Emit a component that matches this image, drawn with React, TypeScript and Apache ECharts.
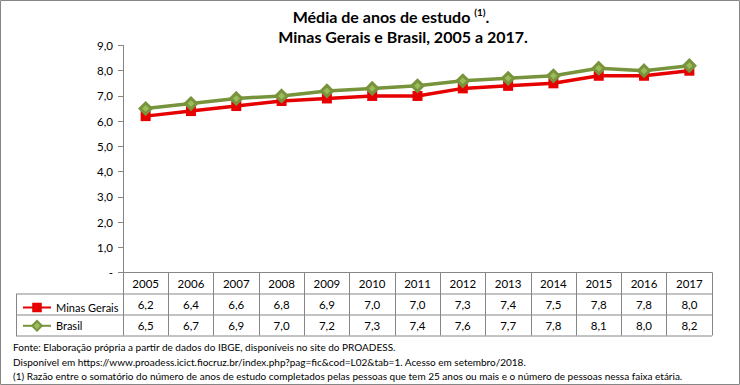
import React, { useEffect, useRef } from "react";
import * as echarts from "echarts";

const years = ["2005", "2006", "2007", "2008", "2009", "2010", "2011", "2012", "2013", "2014", "2015", "2016", "2017"];
const minasGerais = [6.2, 6.4, 6.6, 6.8, 6.9, 7.0, 7.0, 7.3, 7.4, 7.5, 7.8, 7.8, 8.0];
const brasil = [6.5, 6.7, 6.9, 7.0, 7.2, 7.3, 7.4, 7.6, 7.7, 7.8, 8.1, 8.0, 8.2];
const seriesNames = ["Minas Gerais", "Brasil"];
const titleLine1 = "Média de anos de estudo";
const titleSup = "(1)";
const titleLine2 = "Minas Gerais e Brasil, 2005 a 2017.";
const footnotes = [
  "Fonte: Elaboração própria a partir de dados do IBGE, disponíveis no site do PROADESS.",
  "Disponível em https://www.proadess.icict.fiocruz.br/index.php?pag=fic&cod=L02&tab=1. Acesso em setembro/2018.",
  "(1) Razão entre o somatório do número de anos de estudo completados pelas pessoas que tem 25 anos ou mais e o número de pessoas nessa faixa etária.",
];

const FONT = "Lato, 'Liberation Sans', sans-serif";
const fmt = (v: number) => v.toFixed(1).replace(".", ",");

export default function App() {
  const ref = useRef<HTMLDivElement>(null);
  useEffect(() => {
    document.body.style.margin = "0";
    const chart = echarts.init(ref.current!, null, { renderer: "svg" });
    const W = 740, H = 385;
    const gL = 123, gR = 712, gT = 45.5, gB = 272.5;
    const rowH = 21;
    const gridColor = "#868686";
    const valueAxis = (data: string[], offset: number) => ({
      type: "category",
      data,
      position: "bottom",
      offset,
      gridIndex: 0,
      axisLine: { show: false },
      axisTick: { show: false },
      axisLabel: { margin: 5, fontSize: 11.5, color: "#000", fontFamily: FONT },
    });
    chart.setOption({
      animation: false,
      backgroundColor: "#fff",
      grid: { left: gL, right: W - gR, top: gT, bottom: H - gB, containLabel: false },
      legend: {
        orient: "vertical",
        left: 17,
        top: 297,
        itemGap: 7,
        itemWidth: 28,
        itemHeight: 12,
        data: seriesNames,
        textStyle: { fontSize: 11, color: "#000", fontFamily: FONT },
      },
      xAxis: [
        {
          type: "category",
          data: years,
          position: "bottom",
          axisLine: { show: true, lineStyle: { color: gridColor, width: 1 } },
          axisTick: { show: true, length: rowH * 3, lineStyle: { color: gridColor } },
          axisLabel: { margin: 5, fontSize: 11.5, color: "#000", fontFamily: FONT },
        },
        valueAxis(minasGerais.map(fmt), rowH),
        valueAxis(brasil.map(fmt), rowH * 2),
      ],
      yAxis: {
        type: "value",
        min: 0,
        max: 9,
        interval: 1,
        axisLine: { show: true, lineStyle: { color: gridColor } },
        axisTick: { show: true, length: 5, lineStyle: { color: gridColor } },
        splitLine: { show: false },
        axisLabel: {
          margin: 10,
          fontSize: 11.5,
          color: "#000",
          fontFamily: FONT,
          formatter: (v: number) => (v === 0 ? "-" : fmt(v)),
        },
      },
      series: [
        {
          name: seriesNames[0],
          type: "line",
          data: minasGerais,
          symbol: "rect",
          symbolSize: 10,
          itemStyle: { color: "#e60000" },
          lineStyle: { color: "#e60000", width: 3.5 },
        },
        {
          name: seriesNames[1],
          type: "line",
          data: brasil,
          symbol: "diamond",
          symbolSize: 11,
          itemStyle: { color: "#9bbb59", borderColor: "#77933c", borderWidth: 3 },
          lineStyle: { color: "#77933c", width: 3.5 },
        },
      ],
      graphic: [
        {
          type: "rect",
          shape: { x: 0.5, y: 0.5, width: W - 1, height: H - 1 },
          style: { fill: "none", stroke: gridColor, lineWidth: 1 },
          silent: true,
        },
        {
          type: "text",
          x: 391,
          y: 16,
          style: {
            text: `{m|${titleLine1} }{s|${titleSup}}{m|.}`,
            align: "center",
            verticalAlign: "middle",
            rich: {
              m: { fontSize: 16, fontWeight: "bold", fontFamily: FONT, fill: "#000" },
              s: { fontSize: 10, fontWeight: "bold", fontFamily: FONT, fill: "#000", verticalAlign: "top", padding: [0, 0, 8, 0] },
            },
          },
        },
        {
          type: "text",
          x: 403,
          y: 36.5,
          style: {
            text: titleLine2,
            align: "center",
            verticalAlign: "middle",
            fontSize: 16,
            fontWeight: "bold",
            fontFamily: FONT,
            fill: "#000",
          },
        },
        ...[1, 2, 3].map((k) => ({
          type: "line",
          shape: { x1: 16, y1: gB + rowH * k + 0.5, x2: gR, y2: gB + rowH * k + 0.5 },
          style: { stroke: gridColor, lineWidth: 1 },
          silent: true,
        })),
        {
          type: "line",
          shape: { x1: 16.5, y1: gB + rowH + 0.5, x2: 16.5, y2: gB + rowH * 3 + 0.5 },
          style: { stroke: gridColor, lineWidth: 1 },
          silent: true,
        },
        ...footnotes.map((t, i) => ({
          type: "text",
          x: 13,
          y: 347 + i * 14.5,
          style: { text: t, fontSize: 10, fontFamily: FONT, fill: "#000", verticalAlign: "middle", align: "left" },
        })),
      ],
    });
    return () => chart.dispose();
  }, []);
  return <div ref={ref} style={{ width: 740, height: 385 }} />;
}
